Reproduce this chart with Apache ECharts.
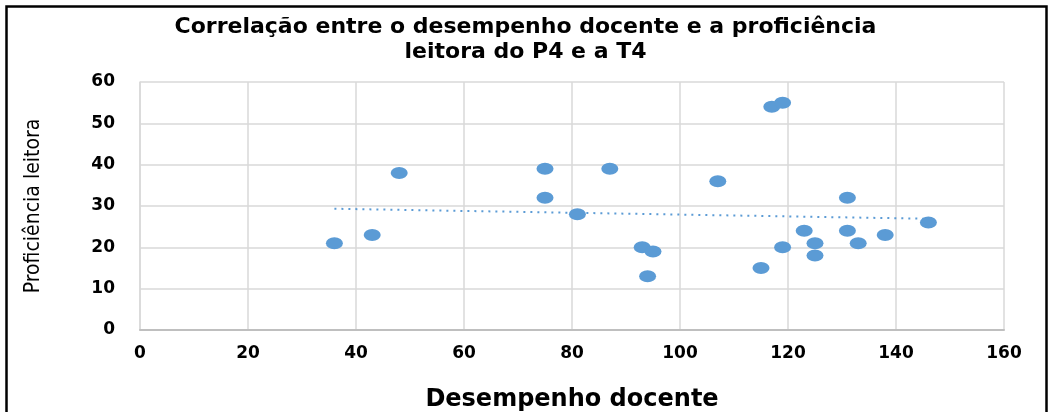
<!DOCTYPE html>
<html>
<head>
<meta charset="utf-8">
<script src="https://cdn.jsdelivr.net/npm/echarts@6/dist/echarts.min.js"></script>
<style>html,body{margin:0;padding:0;background:#fff}#c{width:1051px;height:412px}</style>
</head>
<body>
<div id="c"></div>
<script>
const titleText = 'Correlação entre o desempenho docente e a proficiência\nleitora do P4 e a T4';
const xName = 'Desempenho docente';
const yName = 'Proficiência leitora';
const desempenho = [36, 43, 48, 75, 75, 81, 87, 93, 95, 94, 107, 117, 119, 115, 119, 123, 125, 125, 131, 131, 133, 138, 146];
const proficiencia = [21, 23, 38, 39, 32, 28, 39, 20, 19, 13, 36, 54, 55, 15, 20, 24, 21, 18, 32, 24, 21, 23, 26];

const pts = desempenho.map((x, i) => [x, proficiencia[i]]);
// least-squares trendline over the data range
const n = pts.length;
let sx = 0, sy = 0, sxy = 0, sxx = 0;
pts.forEach(([x, y]) => { sx += x; sy += y; sxy += x * y; sxx += x * x; });
const slope = (n * sxy - sx * sy) / (n * sxx - sx * sx);
const icpt = (sy - slope * sx) / n;
const xmin = Math.min(...desempenho), xmax = Math.max(...desempenho);
const trend = [[xmin, icpt + slope * xmin], [xmax, icpt + slope * xmax]];

const chart = echarts.init(document.getElementById('c'));
chart.setOption({
  animation: false,
  graphic: [{
    type: 'rect', z: -1,
    shape: { x: 6.5, y: 6.5, width: 1040, height: 430 },
    style: { fill: 'none', stroke: '#000', lineWidth: 2.5 }
  }],
  title: {
    text: titleText, left: 'center', top: 10,
    textStyle: { fontFamily: 'DejaVu Sans', fontWeight: 'bold', fontSize: 22, lineHeight: 25, color: '#000' }
  },
  grid: { left: 140, right: 47, top: 82, bottom: 82, containLabel: false, outerBoundsMode: 'none' },
  xAxis: {
    type: 'value', min: 0, max: 160, interval: 20,
    name: xName, nameLocation: 'middle', nameGap: 58,
    nameTextStyle: { fontFamily: 'DejaVu Sans', fontWeight: 'bold', fontSize: 24, color: '#000' },
    axisLine: { show: true, lineStyle: { color: '#bfbfbf', width: 2 } },
    axisTick: { show: false },
    axisLabel: { margin: 15, fontFamily: 'DejaVu Sans', fontWeight: 'bold', fontSize: 17, color: '#000' },
    splitLine: { show: true, lineStyle: { color: '#d9d9d9', width: 1.5 } }
  },
  yAxis: {
    type: 'value', min: 0, max: 60, interval: 10,
    name: yName, nameLocation: 'middle', nameGap: 96, nameRotate: 90,
    nameTextStyle: { fontFamily: 'DejaVu Sans Condensed', fontSize: 21, color: '#000' },
    axisLine: { show: true, lineStyle: { color: '#d9d9d9', width: 1.5 } },
    axisTick: { show: false },
    axisLabel: { margin: 25, fontFamily: 'DejaVu Sans', fontWeight: 'bold', fontSize: 17, color: '#000' },
    splitLine: { show: true, lineStyle: { color: '#d9d9d9', width: 1.5 } }
  },
  series: [{
    type: 'scatter', data: pts, symbol: 'circle', symbolSize: [17, 12],
    itemStyle: { color: '#5b9bd5', opacity: 1 }, z: 3
  }, {
    type: 'line', data: trend, symbol: 'none', silent: true,
    lineStyle: { color: '#5b9bd5', width: 2, type: [2, 5] }, z: 2
  }]
});
</script>
</body>
</html>
